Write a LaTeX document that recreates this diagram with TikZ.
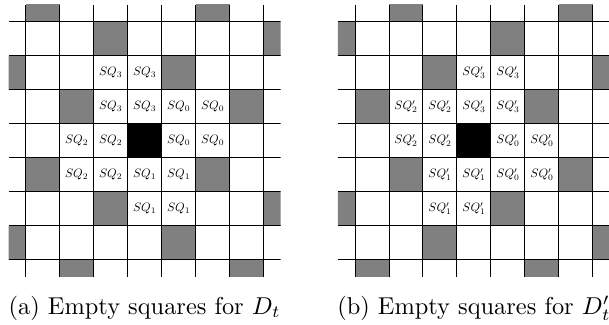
\documentclass[tikz,border=0pt]{standalone}
\begin{document}
\begin{tikzpicture}[x=0.49cm, y=0.49cm, line join=round,
    occ/.style={fill=gray}, sq/.style={scale=0.5, inner sep=0pt}]
\useasboundingbox (-0.756,-1.921) rectangle (17.156,7.638);

% board for D_t
\begin{scope}
  \clip (-0.5,-0.5) rectangle (7.5,7.5);
  \foreach \i in {-1,...,7}
    \foreach \j in {-1,...,7} {
      \pgfmathtruncatemacro{\r}{mod(\i+2*\j+41,5)}
      \ifnum\r=0 \fill[occ] (\i,\j) rectangle ++(1,1); \fi
    }
  \fill[black] (3,3) rectangle (4,4);
  \foreach \k in {0,...,7} {
    \draw[thin] (\k,-0.5) -- (\k,7.5);
    \draw[thin] (-0.5,\k) -- (7.5,\k);
  }
\end{scope}
\foreach \i/\j/\k in {2/5/3,3/5/3,2/4/3,3/4/3,4/4/0,5/4/0,1/3/2,2/3/2,
    4/3/0,5/3/0,1/2/2,2/2/2,3/2/1,4/2/1,3/1/1,4/1/1}
  \node[sq] (a\i\j) at (\i+0.5,\j+0.5) {$SQ_{\k}$};
\node[anchor=base] (capa) at (3.5,-1.6) {(a) Empty squares for $D_t$};

% board for D'_t
\begin{scope}[shift={(9.685,0)}]
  \clip (-0.5,-0.5) rectangle (7.5,7.5);
  \foreach \i in {-1,...,7}
    \foreach \j in {-1,...,7} {
      \pgfmathtruncatemacro{\r}{mod(\i-2*\j+53,5)}
      \ifnum\r=0 \fill[occ] (\i,\j) rectangle ++(1,1); \fi
    }
  \fill[black] (3,3) rectangle (4,4);
  \foreach \k in {0,...,7} {
    \draw[thin] (\k,-0.5) -- (\k,7.5);
    \draw[thin] (-0.5,\k) -- (7.5,\k);
  }
\end{scope}
\begin{scope}[shift={(9.685,0)}]
  \foreach \i/\j/\k in {3/5/3,4/5/3,1/4/2,2/4/2,3/4/3,4/4/3,1/3/2,2/3/2,
      4/3/0,5/3/0,2/2/1,3/2/1,4/2/0,5/2/0,2/1/1,3/1/1}
    \node[sq] (b\i\j) at (\i+0.5,\j+0.5) {$SQ'_{\k}$};
  \node[anchor=base] (capb) at (3.5,-1.6) {(b) Empty squares for $D'_t$};
\end{scope}
\end{tikzpicture}
\end{document}
